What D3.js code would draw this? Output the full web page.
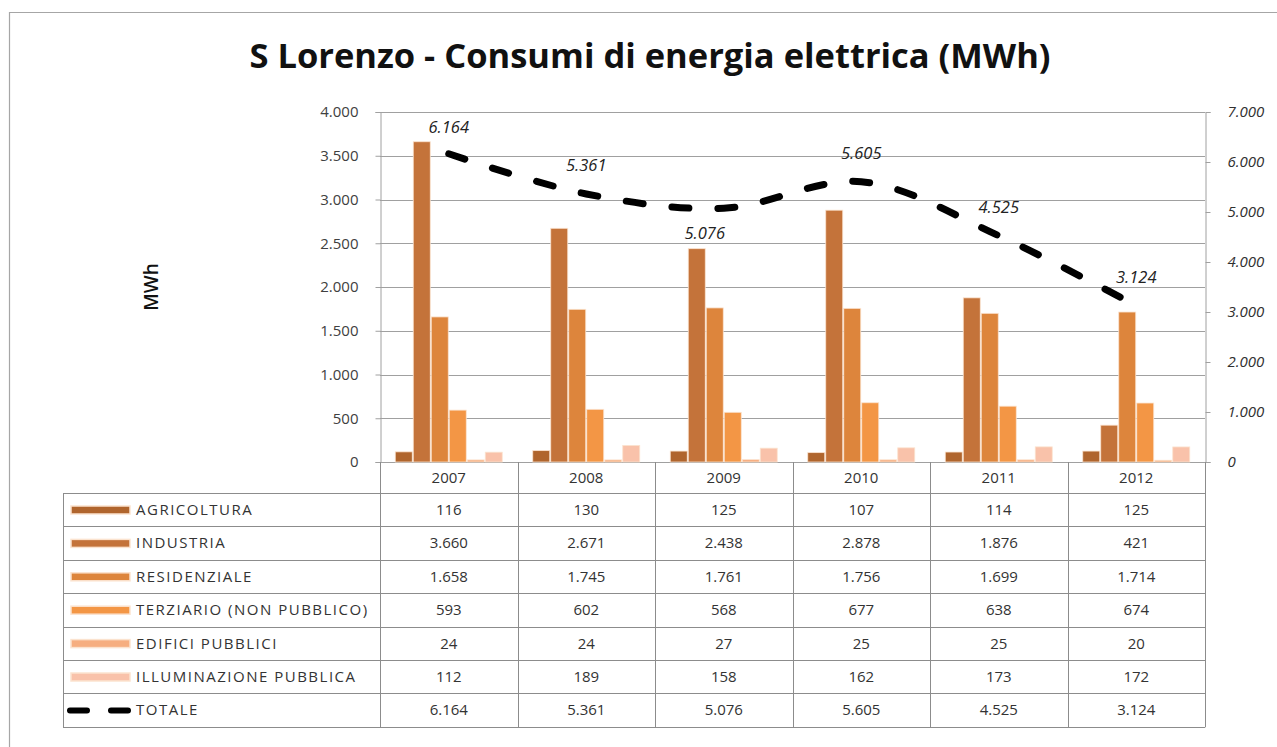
<!DOCTYPE html>
<html>
<head>
<meta charset="utf-8">
<script src="https://cdn.jsdelivr.net/npm/d3@7"></script>
<style>
  body { margin: 0; background: #fff; }
  text { font-family: "Open Sans", "Liberation Sans", sans-serif; }
</style>
</head>
<body>
<div id="chart"></div>
<script>
// data
var years = ["2007", "2008", "2009", "2010", "2011", "2012"];
var seriesNames = ["AGRICOLTURA", "INDUSTRIA", "RESIDENZIALE", "TERZIARIO (NON PUBBLICO)", "EDIFICI PUBBLICI", "ILLUMINAZIONE PUBBLICA"];
var agricoltura = [116, 130, 125, 107, 114, 125];
var industria = [3660, 2671, 2438, 2878, 1876, 421];
var residenziale = [1658, 1745, 1761, 1756, 1699, 1714];
var terziario = [593, 602, 568, 677, 638, 674];
var edifici = [24, 24, 27, 25, 25, 20];
var illuminazione = [112, 189, 158, 162, 173, 172];
var totale = [6164, 5361, 5076, 5605, 4525, 3124];
var leftTicks = [0, 500, 1000, 1500, 2000, 2500, 3000, 3500, 4000];
var rightTicks = [0, 1000, 2000, 3000, 4000, 5000, 6000, 7000];

var series = [agricoltura, industria, residenziale, terziario, edifici, illuminazione];
var colors = ["#b0652d", "#c4733a", "#dd853c", "#f39645", "#f6ae80", "#f9c2aa"];

// italian thousands separator
var fmt = d3.formatLocale({decimal: ",", thousands: ".", grouping: [3], currency: ["", "€"]}).format(",d");

var width = 1277, height = 747;
var plotL = 380, plotR = 1205, plotT = 112, plotB = 462;
var rowH = 33.4;

var svg = d3.select("#chart")
    .append("svg")
    .attr("width", width)
    .attr("height", height);

// frame of the chart area
svg.append("path")
    .attr("d", "M9.5," + height + "V12.5H" + width)
    .attr("fill", "none")
    .attr("stroke", "#a6a6a6")
    .attr("stroke-width", 1.2);

svg.append("text")
    .attr("x", 650)
    .attr("y", 68)
    .attr("text-anchor", "middle")
    .style("font-size", "34.5px")
    .style("font-weight", "bold")
    .attr("fill", "#111")
    .text("S Lorenzo - Consumi di energia elettrica (MWh)");

var x = d3.scaleBand().domain(years).range([plotL, plotR]);
var xInner = d3.scaleBand().domain(d3.range(series.length)).range([0, 108]);
var yL = d3.scaleLinear().domain([0, 4000]).range([plotB, plotT]);
var yR = d3.scaleLinear().domain([0, 7000]).range([plotB, plotT]);

// gridlines
svg.append("g")
    .selectAll("line")
    .data(leftTicks)
    .enter()
    .append("line")
    .attr("x1", plotL)
    .attr("x2", plotR)
    .attr("y1", function(d) { return Math.round(yL(d)) + 0.5; })
    .attr("y2", function(d) { return Math.round(yL(d)) + 0.5; })
    .attr("stroke", "#a0a0a0")
    .attr("stroke-width", 1);

// left axis
var axL = svg.append("g")
    .attr("transform", "translate(" + (plotL + 0.5) + ",0)")
    .call(d3.axisLeft(yL).tickValues(leftTicks).tickFormat(fmt).tickSize(5).tickPadding(17));
axL.select(".domain").attr("stroke", "#a0a0a0");
axL.selectAll(".tick line").attr("stroke", "#a0a0a0");
axL.selectAll("text")
    .style("font-family", "'Open Sans', sans-serif")
    .style("font-size", "15px")
    .attr("fill", "#404040");

// right axis
var axR = svg.append("g")
    .attr("transform", "translate(" + (plotR + 0.5) + ",0)")
    .call(d3.axisRight(yR).tickValues(rightTicks).tickFormat(fmt).tickSize(5).tickPadding(17));
axR.select(".domain").attr("stroke", "#a0a0a0");
axR.selectAll(".tick line").attr("stroke", "#a0a0a0");
axR.selectAll("text")
    .style("font-family", "'Open Sans', sans-serif")
    .style("font-size", "15px")
    .style("font-style", "italic")
    .attr("fill", "#303030");

svg.append("text")
    .attr("transform", "translate(158,287) rotate(-90)")
    .attr("text-anchor", "middle")
    .style("font-size", "19px")
    .style("font-weight", "600")
    .attr("fill", "#111")
    .text("MWh");

// bars
var groups = svg.append("g")
    .selectAll("g")
    .data(series)
    .enter()
    .append("g")
    .attr("fill", function(d, i) { return colors[i]; });

groups.selectAll("rect")
    .data(function(d, i) { return d.map(function(v, j) { return {s: i, year: years[j], value: v}; }); })
    .enter()
    .append("rect")
    .attr("x", function(d) { return x(d.year) + (x.bandwidth() - 108) / 2 + xInner(d.s) + 0.5; })
    .attr("width", xInner.bandwidth() - 1)
    .attr("y", function(d) { return yL(d.value); })
    .attr("height", function(d) { return plotB - yL(d.value); })
    .attr("stroke", "#fbe3cf")
    .attr("stroke-width", 0.8);

// totale line (secondary axis)
var line = d3.line()
    .x(function(d, i) { return x(years[i]) + x.bandwidth() / 2; })
    .y(function(d) { return yR(d); })
    .curve(d3.curveCatmullRom);

svg.append("path")
    .datum(totale)
    .attr("d", line)
    .attr("fill", "none")
    .attr("stroke", "#000")
    .attr("stroke-width", 7)
    .attr("stroke-linecap", "round")
    .attr("stroke-dasharray", "17,29");

// label nudges (style, not data)
var labelDx = [0, 0, -19, 0, 0, 0];
var labelDy = [-21, -23, 31, -23, -23, -23];

svg.append("g")
    .selectAll("text")
    .data(totale)
    .enter()
    .append("text")
    .attr("x", function(d, i) { return x(years[i]) + x.bandwidth() / 2 + labelDx[i]; })
    .attr("y", function(d, i) { return yR(d) + labelDy[i]; })
    .attr("text-anchor", "middle")
    .style("font-size", "16.5px")
    .style("font-style", "italic")
    .attr("fill", "#222")
    .text(function(d) { return fmt(d); });

// data table
var tableL = 63, tableT = plotB;
var rowNames = seriesNames.concat(["TOTALE"]);
var rowData = series.concat([totale]);
var tableTop = 493;
var tableBottom = tableTop + rowH * rowNames.length;

var grid = svg.append("g").attr("stroke", "#8c8c8c").attr("stroke-width", 1);
// horizontal lines
grid.selectAll("line.h")
    .data(d3.range(rowNames.length + 1))
    .enter()
    .append("line")
    .attr("x1", tableL)
    .attr("x2", plotR)
    .attr("y1", function(d) { return Math.round(tableTop + d * rowH) + 0.5; })
    .attr("y2", function(d) { return Math.round(tableTop + d * rowH) + 0.5; });
// vertical lines
grid.selectAll("line.v")
    .data(years.concat(["end"]))
    .enter()
    .append("line")
    .attr("x1", function(d) { return Math.round(d === "end" ? plotR : x(d)) + 0.5; })
    .attr("x2", function(d) { return Math.round(d === "end" ? plotR : x(d)) + 0.5; })
    .attr("y1", tableT)
    .attr("y2", tableBottom + 0.5);
grid.append("line")
    .attr("x1", tableL + 0.5).attr("x2", tableL + 0.5)
    .attr("y1", tableTop).attr("y2", tableBottom + 0.5);

// year header
svg.append("g")
    .selectAll("text")
    .data(years)
    .enter()
    .append("text")
    .attr("x", function(d) { return x(d) + x.bandwidth() / 2; })
    .attr("y", 483)
    .attr("text-anchor", "middle")
    .style("font-size", "15px")
    .attr("fill", "#333")
    .text(function(d) { return d; });

var rows = svg.append("g")
    .selectAll("g")
    .data(rowNames)
    .enter()
    .append("g")
    .attr("transform", function(d, i) { return "translate(0," + (tableTop + i * rowH) + ")"; });

rows.each(function(name, i) {
    var g = d3.select(this);
    if (i < series.length) {
        g.append("rect")
            .attr("x", 71).attr("y", 13).attr("width", 59).attr("height", 8)
            .attr("fill", colors[i])
            .attr("stroke", "#fbe3cf").attr("stroke-width", 1.5);
    } else {
        g.append("line")
            .attr("x1", 70).attr("x2", 130).attr("y1", 17).attr("y2", 17)
            .attr("stroke", "#000").attr("stroke-width", 6)
            .attr("stroke-linecap", "round")
            .attr("stroke-dasharray", "17,24");
    }
    g.append("text")
        .attr("x", 136).attr("y", 22)
        .style("font-size", "15px")
        .style("letter-spacing", "1.5px")
        .attr("fill", "#333")
        .text(name);
    g.selectAll("text.v")
        .data(rowData[i])
        .enter()
        .append("text")
        .attr("x", function(d, j) { return x(years[j]) + x.bandwidth() / 2; })
        .attr("y", 22)
        .attr("text-anchor", "middle")
        .style("font-size", "15px")
        .attr("fill", "#333")
        .text(function(d) { return fmt(d); });
});
</script>
</body>
</html>
